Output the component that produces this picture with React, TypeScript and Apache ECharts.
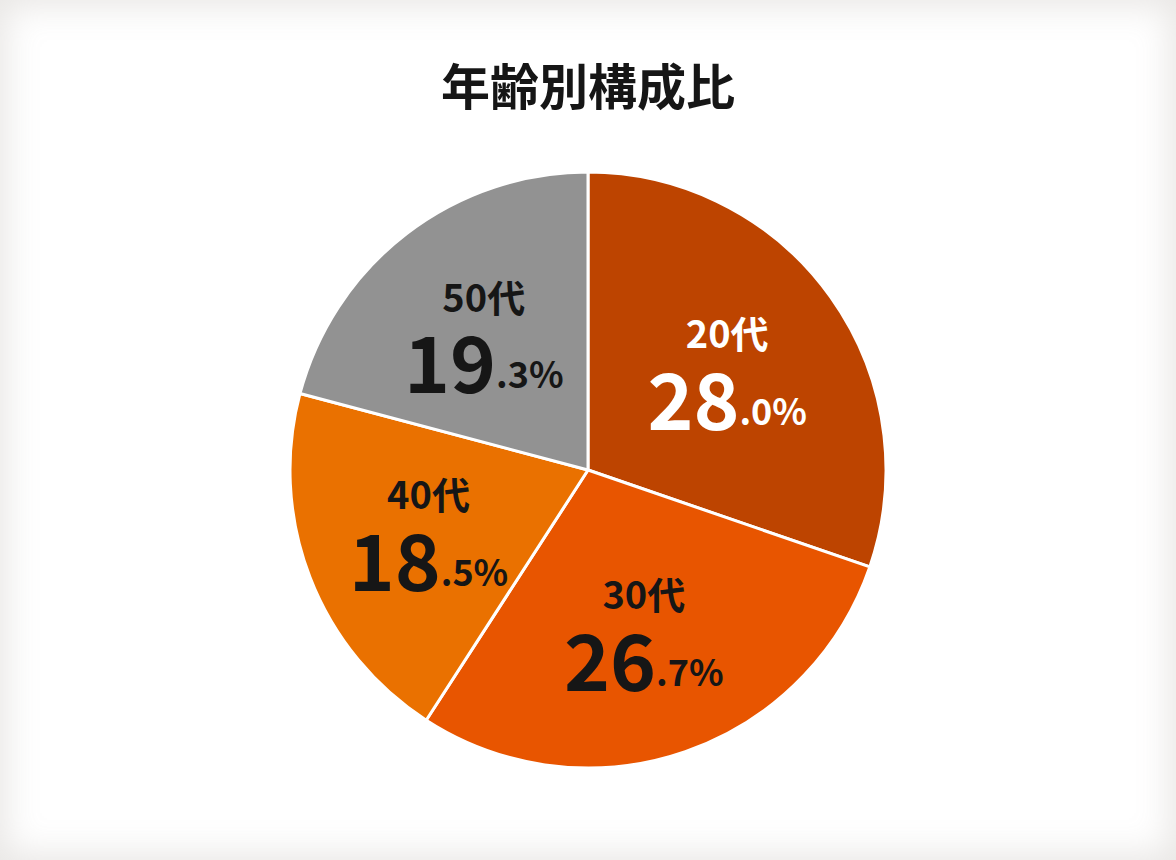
import { useEffect, useRef } from 'react';
import * as echarts from 'echarts';

const categories = ['20代', '30代', '40代', '50代'];
const shares = [28.0, 26.7, 18.5, 19.3];
const sliceColors = ['#bd4400', '#e85500', '#ea7100', '#929292'];
const labelColors = ['#ffffff', '#161616', '#161616', '#161616'];

const FONT = '"Noto Sans CJK JP", "Noto Sans", sans-serif';

export default function App() {
  const chartRef = useRef<HTMLDivElement>(null);

  useEffect(() => {
    if (!chartRef.current) return;
    document.body.style.margin = '0';
    const chart = echarts.init(chartRef.current, null, { renderer: 'svg' });

    const data = categories.map((name, i) => ({
      name,
      value: shares[i],
      itemStyle: { color: sliceColors[i] },
    }));

    const rich = (color: string) => ({
      a: { fontSize: 38, fontWeight: 'bold', color, fontFamily: FONT, lineHeight: 58 },
      b: { fontSize: 78, fontWeight: 'bold', color, fontFamily: FONT, lineHeight: 70 },
      c: { fontSize: 36, fontWeight: 'bold', color, fontFamily: FONT, lineHeight: 70, verticalAlign: 'bottom', padding: [0, 0, 4, 0] },
    });

    const labelData = categories.map((name, i) => ({
      name,
      value: shares[i],
      itemStyle: { color: 'transparent' },
      label: { rich: rich(labelColors[i]) },
    }));

    chart.setOption({
      animation: false,
      backgroundColor: 'transparent',
      title: {
        text: '年齢別構成比',
        left: 'center',
        top: 54,
        textStyle: {
          fontSize: 49,
          fontWeight: 'bold',
          color: '#161616',
          fontFamily: FONT,
        },
      },
      series: [
        {
          type: 'pie',
          radius: 298,
          center: [588, 470],
          startAngle: 90,
          silent: true,
          itemStyle: { borderColor: '#ffffff', borderWidth: 3 },
          label: { show: false },
          labelLine: { show: false },
          data,
        },
        {
          type: 'pie',
          radius: [46, 290],
          center: [588, 466],
          startAngle: 90,
          silent: true,
          itemStyle: { borderWidth: 0 },
          label: {
            show: true,
            position: 'inside',
            formatter: (p: any) => {
              const [whole, dec] = Number(p.value).toFixed(1).split('.');
              return `{a|${p.name}}\n{b|${whole}}{c|.${dec}%}`;
            },
          },
          labelLine: { show: false },
          data: labelData,
        },
      ],
    });

    return () => chart.dispose();
  }, []);

  return (
    <div
      style={{
        position: 'absolute',
        left: 0,
        top: 0,
        width: 1176,
        height: 860,
        background: '#ffffff',
        boxShadow: 'inset 0 0 34px 6px rgba(150, 140, 130, 0.22)',
        overflow: 'hidden',
      }}
    >
      <div ref={chartRef} style={{ width: 1176, height: 860 }} />
    </div>
  );
}
